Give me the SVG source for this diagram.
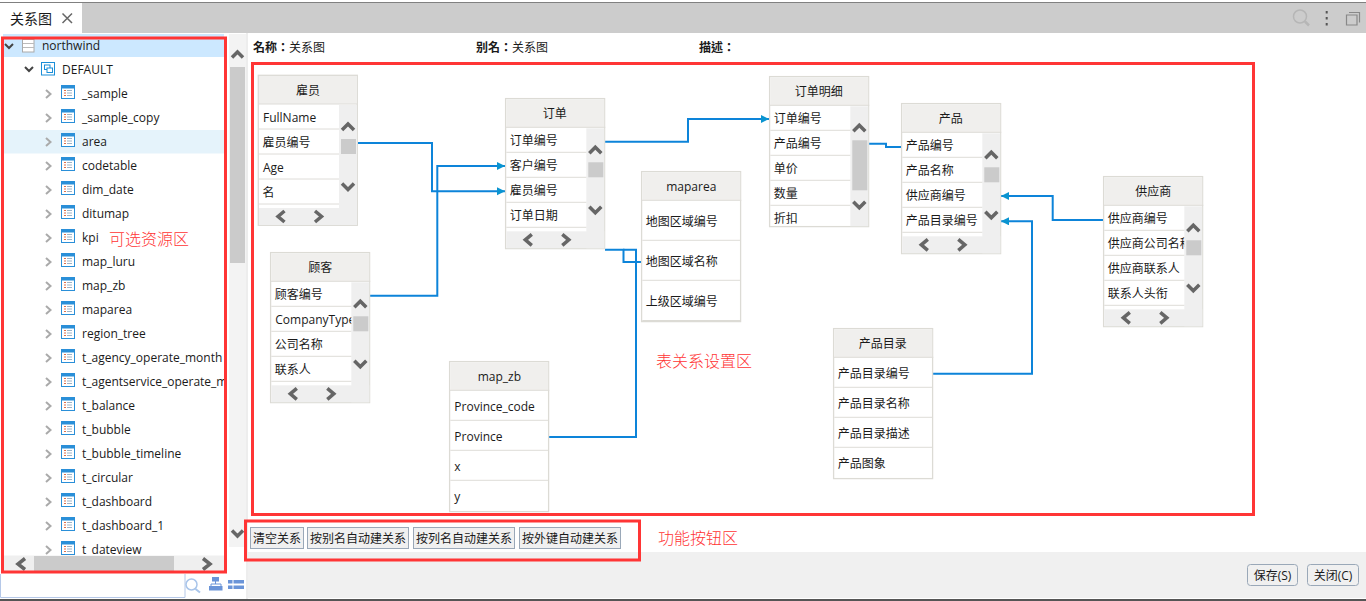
<svg xmlns="http://www.w3.org/2000/svg" xmlns:xlink="http://www.w3.org/1999/xlink" width="1366" height="601" viewBox="0 0 1366 601">
<style>
text{font-family:"Open Sans","Noto Sans CJK SC",sans-serif;font-size:12px;fill:#1a1a1a}
.cn{font-family:"Noto Sans CJK SC",sans-serif}
.tc{font-family:"Noto Sans CJK TC",sans-serif}
.b{font-weight:700}
.tt{text-anchor:middle}
.ann{font-family:"Noto Sans CJK SC",sans-serif;font-size:16px;fill:#ff3535;font-weight:300}
.red{fill:none;stroke:#ff3535;stroke-width:3}
.frame{fill:#fff;stroke:#dcdbd5;stroke-width:1.3}
.head{fill:#f0efed}
.sep{stroke:#dedcd8;stroke-width:1;fill:none}
.chev{fill:none;stroke:#666;stroke-width:3.5}
.tchev{fill:none;stroke:#aaa;stroke-width:2}
.dchev{fill:none;stroke:#444;stroke-width:2}
.sbg{fill:#efefef}
.thumb{fill:#cbcbcb}
.btn{fill:#f0f0f0;stroke:#9aa8b8;stroke-width:1}
.conn{fill:none;stroke:#0d84d9;stroke-width:2}
.conna{fill:none;stroke:#0d84d9;stroke-width:2;marker-end:url(#arr)}
</style>
<defs>
<marker id="arr" markerUnits="userSpaceOnUse" markerWidth="9" markerHeight="9" refX="8" refY="4" orient="auto"><path d="M0 0L8 4L0 8Z" fill="#0a94d0"/></marker>
<clipPath id="rc"><rect x="0" y="0" width="81" height="150"/></clipPath>
<clipPath id="treeclip"><rect x="0" y="34" width="224" height="521"/></clipPath>
<g id="ti">
<rect x="0.5" y="0.5" width="13" height="13" fill="#fff" stroke="#2a8fd8"/>
<rect x="0" y="0" width="14" height="3.5" fill="#2a8fd8"/>
<path d="M3 5.5h2M3 8h2M3 10.5h2" stroke="#e0704a" fill="none"/>
<path d="M6 5.5h5M6 8h5M6 10.5h5" stroke="#9db4c8" fill="none"/>
</g>
<path id="rch" class="tchev" d="M-2.5 -4L2 0L-2.5 4"/>
<g id="frame5">
<rect class="frame" x="0.3" y="0.3" width="99" height="150"/>
<rect class="head" x="1" y="1" width="98" height="28"/>
<path class="sep" d="M0 29h100"/>
</g>
<g id="sb">
<rect class="sbg" x="81" y="30" width="18" height="120"/>
<rect class="sbg" x="1" y="133" width="98" height="17"/>
<rect class="thumb" x="83" y="64" width="15" height="15"/>
<path class="chev" d="M84 55L90 49L96 55"/>
<path class="chev" d="M84 108.500L90 114.500L96 108.500"/>
<path class="chev" d="M26.500 136L20 141.500L26.500 147"/>
<path class="chev" d="M57 136L63.500 141.500L57 147"/>
<path class="sep" d="M1 54h80M1 79h80M1 104h80M1 129h80"/>
</g>
</defs>
<rect width="1366" height="601" fill="#fff"/>

<g id="top-bar">
<rect x="0" y="2" width="1366" height="1" fill="#808080"/>
<rect x="0" y="3" width="1366" height="30" fill="#ccc"/>
<rect x="0" y="3" width="82" height="30" fill="#fff"/>
<text class="cn" x="10" y="24" style="font-size:14px">关系图</text>
<path d="M62.500 13.500L72 23M72 13.500L62.500 23" stroke="#666" stroke-width="1.500" fill="none"/>
<circle cx="1300" cy="16.500" r="6.500" fill="none" stroke="#b6b6b6" stroke-width="1.500"/>
<path d="M1305 21.500L1309 25.500" stroke="#b6b6b6" stroke-width="2.500"/>
<path d="M1326.700 11v2.500M1326.700 17v2.500M1326.700 23v2.500" stroke="#555" stroke-width="2"/>
<path d="M1349 12.500h10.500v10M1346.500 15h10.500v10h-10.500z" fill="none" stroke="#888" stroke-width="1.200"/>
</g>

<g id="tree-panel">
<rect x="3" y="34" width="221" height="23" fill="#cce8ff"/>
<rect x="3" y="130" width="221" height="23.500" fill="#e5f3fb"/>
<path class="dchev" d="M5 44L9 48L13 44"/>
<rect x="22.500" y="39.500" width="11.500" height="12.500" fill="#fff" stroke="#aaa"/>
<path d="M23 43.500h11M23 47.500h11" stroke="#bbb"/>
<text x="42" y="50">northwind</text>
<path class="dchev" d="M25 67L29 71L33 67"/>
<rect x="41.500" y="62.500" width="13" height="12.500" fill="#fff" stroke="#1c8fd8"/>
<rect x="44.500" y="65" width="5.500" height="4.500" fill="#fff" stroke="#1c8fd8"/>
<rect x="47" y="68" width="5.500" height="4.500" fill="#fff" stroke="#1c8fd8"/>
<text x="62" y="74">DEFAULT</text>
<g clip-path="url(#treeclip)">
<use href="#rch" x="48.500" y="94"/><use href="#ti" x="61" y="85"/><text x="82" y="98">_sample</text>
<use href="#rch" x="48.500" y="118"/><use href="#ti" x="61" y="109"/><text x="82" y="122">_sample_copy</text>
<use href="#rch" x="48.500" y="142"/><use href="#ti" x="61" y="133"/><text x="82" y="146">area</text>
<use href="#rch" x="48.500" y="166"/><use href="#ti" x="61" y="157"/><text x="82" y="170">codetable</text>
<use href="#rch" x="48.500" y="190"/><use href="#ti" x="61" y="181"/><text x="82" y="194">dim_date</text>
<use href="#rch" x="48.500" y="214"/><use href="#ti" x="61" y="205"/><text x="82" y="218">ditumap</text>
<use href="#rch" x="48.500" y="238"/><use href="#ti" x="61" y="229"/><text x="82" y="242">kpi</text>
<use href="#rch" x="48.500" y="262"/><use href="#ti" x="61" y="253"/><text x="82" y="266">map_luru</text>
<use href="#rch" x="48.500" y="286"/><use href="#ti" x="61" y="277"/><text x="82" y="290">map_zb</text>
<use href="#rch" x="48.500" y="310"/><use href="#ti" x="61" y="301"/><text x="82" y="314">maparea</text>
<use href="#rch" x="48.500" y="334"/><use href="#ti" x="61" y="325"/><text x="82" y="338">region_tree</text>
<use href="#rch" x="48.500" y="358"/><use href="#ti" x="61" y="349"/><text x="82" y="362">t_agency_operate_month</text>
<use href="#rch" x="48.500" y="382"/><use href="#ti" x="61" y="373"/><text x="82" y="386">t_agentservice_operate_m</text>
<use href="#rch" x="48.500" y="406"/><use href="#ti" x="61" y="397"/><text x="82" y="410">t_balance</text>
<use href="#rch" x="48.500" y="430"/><use href="#ti" x="61" y="421"/><text x="82" y="434">t_bubble</text>
<use href="#rch" x="48.500" y="454"/><use href="#ti" x="61" y="445"/><text x="82" y="458">t_bubble_timeline</text>
<use href="#rch" x="48.500" y="478"/><use href="#ti" x="61" y="469"/><text x="82" y="482">t_circular</text>
<use href="#rch" x="48.500" y="502"/><use href="#ti" x="61" y="493"/><text x="82" y="506">t_dashboard</text>
<use href="#rch" x="48.500" y="526"/><use href="#ti" x="61" y="517"/><text x="82" y="530">t_dashboard_1</text>
<use href="#rch" x="48.500" y="550"/><use href="#ti" x="61" y="541"/><text x="82" y="554">t_dateview</text>
</g>
<rect class="sbg" x="3" y="555.500" width="221" height="16"/>
<rect class="thumb" x="34" y="556" width="140" height="15"/>
<path class="chev" d="M25 558.500L18 564L25 569.500M203 558.500L210 564L203 569.500"/>
<rect x="229" y="34" width="17" height="513" fill="#f3f3f3"/>
<rect class="thumb" x="230" y="67" width="15" height="196"/>
<path class="chev" d="M232 57.500L237.500 52L243 57.500M232 530.500L237.500 536L243 530.500"/>
<path d="M0.500 574V597.500H185V574" fill="none" stroke="#b5c8e8"/>
<circle cx="191.500" cy="584.500" r="5.500" fill="none" stroke="#a9c5ea" stroke-width="1.500"/>
<path d="M195.500 589L200 592.500" stroke="#a9c5ea" stroke-width="2"/>
<path d="M212 577h7v4.500h-7zM209 586h4.500v4.500H209zM213.500 586h4.500v4.500h-4.500zM218 586h4.500v4.500H218z" fill="#6a94d8"/>
<path d="M215.500 581v3M211 586v-2h10v2" fill="none" stroke="#6a94d8"/>
<path d="M228 580h4.500v3.500H228zM233.500 580H244v3.500h-10.500zM228 585.500h4.500V589H228zM233.500 585.500H244V589h-10.500z" fill="#6a94d8"/>
<rect x="246.500" y="33" width="1" height="566" fill="#dcdcdc"/>
</g>

<g id="header-info">
<text class="tc b" x="253" y="52">名称：</text><text class="cn" x="289" y="52">关系图</text>
<text class="tc b" x="476" y="52">别名：</text><text class="cn" x="512" y="52">关系图</text>
<text class="tc b" x="699" y="52">描述：</text>
</g>

<rect x="248" y="552" width="1118" height="46" fill="#f0f0f0"/>
<rect x="0" y="599" width="1366" height="2" fill="#555"/>

<g id="connectors">
<path class="conna" d="M358 143H432V191.300H505"/>
<path class="conna" d="M370 295.700H437.300V166H505"/>
<path class="conna" d="M605 141.700H688V119H769"/>
<path class="conn" d="M869 143.700H886V147H901"/>
<path class="conna" d="M1103 220H1052.700V196H1001"/>
<path class="conna" d="M933 373.700H1032V221.300H1001"/>
<path class="conn" d="M605 249.700H623.500V262H641"/>
<path class="conn" d="M549 437H636V249.700H623"/>
</g>

<g id="t-employee" transform="translate(258,75)">
<use href="#frame5"/><use href="#sb"/>
<text class="cn tt" x="50" y="20">雇员</text>
<g clip-path="url(#rc)"><text x="5" y="46.500">FullName</text><text class="cn" x="4.500" y="71.500">雇员编号</text><text x="5" y="96.500">Age</text><text class="cn" x="4.500" y="121.500">名</text></g>
</g>
<g id="t-customer" transform="translate(270.300,252.300)">
<use href="#frame5"/><use href="#sb"/>
<text class="cn tt" x="50" y="20">顾客</text>
<g clip-path="url(#rc)"><text class="cn" x="4.500" y="46.500">顾客编号</text><text x="5" y="71.500">CompanyType</text><text class="cn" x="4.500" y="96.500">公司名称</text><text class="cn" x="4.500" y="121.500">联系人</text></g>
</g>
<g id="t-order" transform="translate(505.300,98.300)">
<use href="#frame5"/><use href="#sb"/>
<text class="cn tt" x="49.500" y="20">订单</text>
<g clip-path="url(#rc)"><text class="cn" x="4.500" y="46.500">订单编号</text><text class="cn" x="4.500" y="71.500">客户编号</text><text class="cn" x="4.500" y="96.500">雇员编号</text><text class="cn" x="4.500" y="121.500">订单日期</text></g>
</g>
<g id="t-orderdetail" transform="translate(769.300,76.300)">
<use href="#frame5"/>
<rect class="sbg" x="81" y="30" width="18" height="120"/>
<rect class="thumb" x="83" y="64" width="15" height="50"/>
<path class="chev" d="M84 55L90 49L96 55M84 125.500L90 131.500L96 125.500"/>
<path class="sep" d="M1 54h80M1 79h80M1 104h80M1 129h80"/>
<text class="cn tt" x="49.500" y="20">订单明细</text>
<g clip-path="url(#rc)"><text class="cn" x="4.500" y="46.500">订单编号</text><text class="cn" x="4.500" y="71.500">产品编号</text><text class="cn" x="4.500" y="96.500">单价</text><text class="cn" x="4.500" y="121.500">数量</text><text class="cn" x="4.500" y="146.500">折扣</text></g>
</g>
<g id="t-product" transform="translate(901.300,103.300)">
<use href="#frame5"/><use href="#sb"/>
<text class="cn tt" x="49.500" y="20">产品</text>
<g clip-path="url(#rc)"><text class="cn" x="4.500" y="46.500">产品编号</text><text class="cn" x="4.500" y="71.500">产品名称</text><text class="cn" x="4.500" y="96.500">供应商编号</text><text class="cn" x="4.500" y="121.500">产品目录编号</text></g>
</g>
<g id="t-supplier" transform="translate(1103.300,176.300)">
<use href="#frame5"/><use href="#sb"/>
<text class="cn tt" x="50" y="20">供应商</text>
<g clip-path="url(#rc)"><text class="cn" x="4.500" y="46.500">供应商编号</text><text class="cn" x="4.500" y="71.500">供应商公司名称</text><text class="cn" x="4.500" y="96.500">供应商联系人</text><text class="cn" x="4.500" y="121.500">联系人头衔</text></g>
</g>
<g id="t-maparea" transform="translate(641.300,171.300)">
<use href="#frame5"/>
<path class="sep" d="M1 69h98M1 109h98"/><path d="M1 149.500h98" stroke="#dcdbd5" stroke-width="1.500"/>
<text class="tt" x="50" y="20">maparea</text>
<text class="cn" x="4.500" y="54.500">地图区域编号</text><text class="cn" x="4.500" y="94.500">地图区域名称</text><text class="cn" x="4.500" y="134.500">上级区域编号</text>
</g>
<g id="t-mapzb" transform="translate(449.300,361.300)">
<use href="#frame5"/>
<path class="sep" d="M1 59h98M1 89h98M1 119h98"/>
<text class="tt" x="50" y="20">map_zb</text>
<text x="5" y="49.500">Province_code</text><text x="5" y="79.500">Province</text><text x="5" y="109.500">x</text><text x="5" y="139.500">y</text>
</g>
<g id="t-category" transform="translate(833.300,328.300)">
<use href="#frame5"/>
<path class="sep" d="M1 59h98M1 89h98M1 119h98"/>
<text class="cn tt" x="49.500" y="20">产品目录</text>
<text class="cn" x="4.500" y="49.500">产品目录编号</text><text class="cn" x="4.500" y="79.500">产品目录名称</text><text class="cn" x="4.500" y="109.500">产品目录描述</text><text class="cn" x="4.500" y="139.500">产品图象</text>
</g>

<g id="function-buttons">
<rect class="btn" x="250.500" y="527.500" width="53" height="21"/><text class="cn tt" x="277" y="543">清空关系</text>
<rect class="btn" x="307.500" y="527.500" width="101" height="21"/><text class="cn tt" x="358" y="543">按别名自动建关系</text>
<rect class="btn" x="413.500" y="527.500" width="101" height="21"/><text class="cn tt" x="464" y="543">按列名自动建关系</text>
<rect class="btn" x="519.500" y="527.500" width="101" height="21"/><text class="cn tt" x="570" y="543">按外键自动建关系</text>
</g>
<g id="dialog-buttons">
<rect class="btn" x="1247.500" y="564.500" width="50" height="21" rx="3"/><text class="tt" x="1272.500" y="580"><tspan class="cn">保存</tspan>(S)</text>
<rect class="btn" x="1307.500" y="564.500" width="51" height="21" rx="3"/><text class="tt" x="1333" y="580"><tspan class="cn">关闭</tspan>(C)</text>
</g>

<g id="annotations">
<rect class="red" x="2.500" y="38" width="223" height="534"/>
<rect class="red" x="252.500" y="63.500" width="1001" height="451"/>
<rect class="red" x="245.500" y="521" width="394" height="39"/>
<text class="ann" x="109" y="245">可选资源区</text>
<text class="ann" x="656" y="367">表关系设置区</text>
<text class="ann" x="658" y="544">功能按钮区</text>
</g>
</svg>
